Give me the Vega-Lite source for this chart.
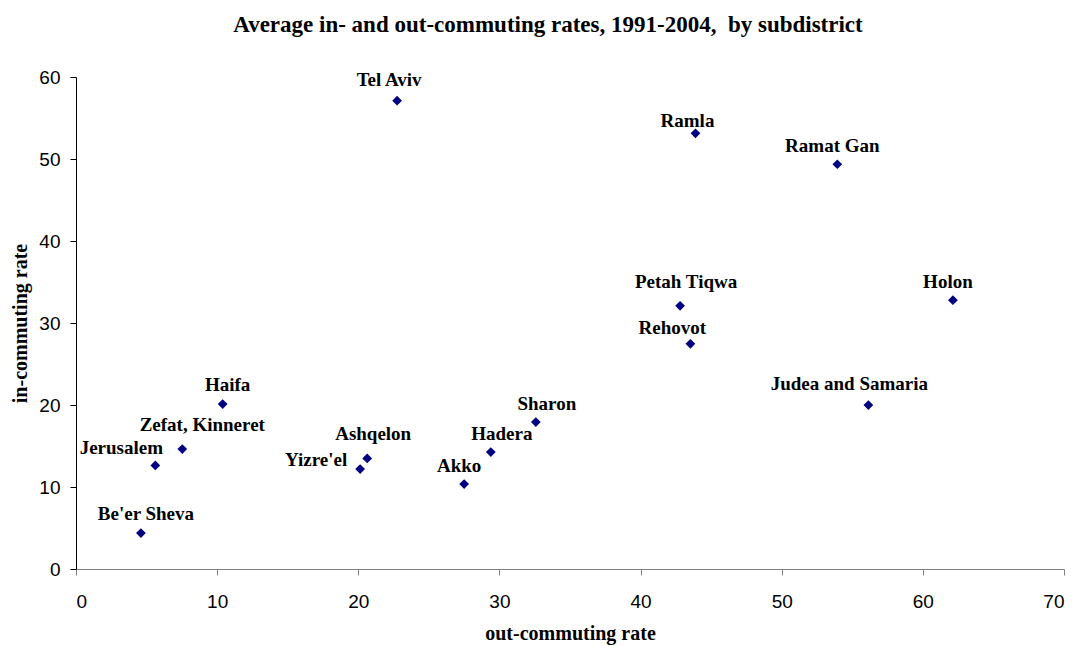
{
  "$schema": "https://vega.github.io/schema/vega-lite/v6.json",
  "width": 988,
  "height": 492,
  "autosize": "none",
  "padding": {"left": 76, "top": 77, "right": 14, "bottom": 77},
  "background": "white",
  "title": {
    "text": "Average in- and out-commuting rates, 1991-2004,\u00a0 by subdistrict",
    "font": "Liberation Serif",
    "fontSize": 23,
    "fontWeight": "bold",
    "color": "black",
    "frame": "group",
    "anchor": "middle",
    "dx": -22,
    "offset": 31
  },
  "data": {
    "values": [
      {"name": "Tel Aviv", "out": 22.75, "in": 57.11},
      {"name": "Ramla", "out": 43.89, "in": 53.14},
      {"name": "Ramat Gan", "out": 53.94, "in": 49.36},
      {"name": "Holon", "out": 62.13, "in": 32.78},
      {"name": "Petah Tiqwa", "out": 42.80, "in": 32.09},
      {"name": "Rehovot", "out": 43.53, "in": 27.46},
      {"name": "Judea and Samaria", "out": 56.14, "in": 19.99},
      {"name": "Sharon", "out": 32.58, "in": 17.92},
      {"name": "Hadera", "out": 29.39, "in": 14.26},
      {"name": "Akko", "out": 27.50, "in": 10.36},
      {"name": "Ashqelon", "out": 20.63, "in": 13.48},
      {"name": "Yizre'el", "out": 20.13, "in": 12.19},
      {"name": "Haifa", "out": 10.39, "in": 20.11},
      {"name": "Zefat, Kinneret", "out": 7.53, "in": 14.63},
      {"name": "Jerusalem", "out": 5.62, "in": 12.63},
      {"name": "Be'er Sheva", "out": 4.60, "in": 4.39}
    ]
  },
  "encoding": {
    "x": {
      "field": "out",
      "type": "quantitative",
      "scale": {"domain": [0, 70], "nice": false, "zero": true},
      "axis": {
        "title": "out-commuting rate",
        "values": [0, 10, 20, 30, 40, 50, 60, 70],
        "grid": false,
        "domainColor": "#808080",
        "tickColor": "#808080",
        "tickSize": 6,
        "labelFont": "Liberation Sans",
        "labelFontSize": 19,
        "labelColor": "black",
        "labelPadding": 17,
        "titleFont": "Liberation Serif",
        "titleFontSize": 20,
        "titleFontWeight": "bold",
        "titleColor": "black",
        "titlePadding": 12
      }
    },
    "y": {
      "field": "in",
      "type": "quantitative",
      "scale": {"domain": [0, 60], "nice": false},
      "axis": {
        "title": "in-commuting rate",
        "values": [0, 10, 20, 30, 40, 50, 60],
        "grid": false,
        "domainColor": "black",
        "tickColor": "black",
        "tickSize": 6,
        "labelFont": "Liberation Sans",
        "labelFontSize": 19,
        "labelColor": "black",
        "labelPadding": 10,
        "titleFont": "Liberation Serif",
        "titleFontSize": 20,
        "titleFontWeight": "bold",
        "titleColor": "black",
        "titlePadding": 8
      }
    }
  },
  "layer": [
    {
      "mark": {"type": "point", "shape": "diamond", "filled": true, "size": 95, "color": "#000080", "opacity": 1}
    },
    {
      "transform": [{"filter": {"field": "name", "oneOf": ["Ramat Gan", "Holon", "Akko"]}}],
      "mark": {"type": "text", "font": "Liberation Serif", "fontSize": 19, "fontWeight": "bold", "color": "black", "align": "center", "baseline": "middle", "dx": -5, "dy": -18},
      "encoding": {"text": {"field": "name"}}
    },
    {
      "transform": [{"filter": {"field": "name", "oneOf": ["Tel Aviv"]}}],
      "mark": {"type": "text", "font": "Liberation Serif", "fontSize": 19, "fontWeight": "bold", "color": "black", "align": "center", "baseline": "middle", "dx": -8, "dy": -21},
      "encoding": {"text": {"field": "name"}}
    },
    {
      "transform": [{"filter": {"field": "name", "oneOf": ["Sharon", "Hadera"]}}],
      "mark": {"type": "text", "font": "Liberation Serif", "fontSize": 19, "fontWeight": "bold", "color": "black", "align": "center", "baseline": "middle", "dx": 11, "dy": -18},
      "encoding": {"text": {"field": "name"}}
    },
    {
      "transform": [{"filter": {"field": "name", "oneOf": ["Haifa", "Be'er Sheva"]}}],
      "mark": {"type": "text", "font": "Liberation Serif", "fontSize": 19, "fontWeight": "bold", "color": "black", "align": "center", "baseline": "middle", "dx": 5, "dy": -19},
      "encoding": {"text": {"field": "name"}}
    },
    {
      "transform": [{"filter": {"field": "name", "oneOf": ["Ramla"]}}],
      "mark": {"type": "text", "font": "Liberation Serif", "fontSize": 19, "fontWeight": "bold", "color": "black", "align": "center", "baseline": "middle", "dx": -8, "dy": -12},
      "encoding": {"text": {"field": "name"}}
    },
    {
      "transform": [{"filter": {"field": "name", "oneOf": ["Petah Tiqwa", "Ashqelon"]}}],
      "mark": {"type": "text", "font": "Liberation Serif", "fontSize": 19, "fontWeight": "bold", "color": "black", "align": "center", "baseline": "middle", "dx": 6, "dy": -24},
      "encoding": {"text": {"field": "name"}}
    },
    {
      "transform": [{"filter": {"field": "name", "oneOf": ["Rehovot"]}}],
      "mark": {"type": "text", "font": "Liberation Serif", "fontSize": 19, "fontWeight": "bold", "color": "black", "align": "center", "baseline": "middle", "dx": -18, "dy": -16},
      "encoding": {"text": {"field": "name"}}
    },
    {
      "transform": [{"filter": {"field": "name", "oneOf": ["Judea and Samaria"]}}],
      "mark": {"type": "text", "font": "Liberation Serif", "fontSize": 19, "fontWeight": "bold", "color": "black", "align": "center", "baseline": "middle", "dx": -19, "dy": -21},
      "encoding": {"text": {"field": "name"}}
    },
    {
      "transform": [{"filter": {"field": "name", "oneOf": ["Yizre'el"]}}],
      "mark": {"type": "text", "font": "Liberation Serif", "fontSize": 19, "fontWeight": "bold", "color": "black", "align": "center", "baseline": "middle", "dx": -44, "dy": -9},
      "encoding": {"text": {"field": "name"}}
    },
    {
      "transform": [{"filter": {"field": "name", "oneOf": ["Zefat, Kinneret"]}}],
      "mark": {"type": "text", "font": "Liberation Serif", "fontSize": 19, "fontWeight": "bold", "color": "black", "align": "center", "baseline": "middle", "dx": 20, "dy": -24},
      "encoding": {"text": {"field": "name"}}
    },
    {
      "transform": [{"filter": {"field": "name", "oneOf": ["Jerusalem"]}}],
      "mark": {"type": "text", "font": "Liberation Serif", "fontSize": 19, "fontWeight": "bold", "color": "black", "align": "center", "baseline": "middle", "dx": -34, "dy": -17},
      "encoding": {"text": {"field": "name"}}
    }
  ],
  "config": {
    "view": {"stroke": null},
    "axis": {"domainWidth": 1, "tickWidth": 1}
  }
}
